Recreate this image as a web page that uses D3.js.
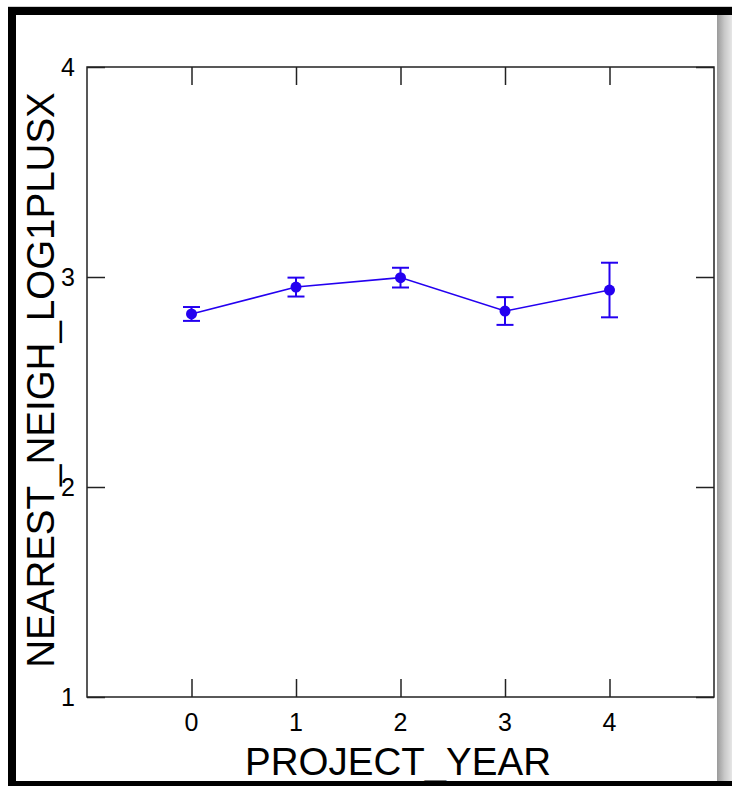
<!DOCTYPE html>
<html>
<head>
<meta charset="utf-8">
<script src="https://cdn.jsdelivr.net/npm/d3@7/dist/d3.min.js"></script>
<style>
  html, body { margin: 0; padding: 0; background: #fff; }
  svg { display: block; }
  text { font-family: "Liberation Sans", Arial, sans-serif; fill: #000; }
</style>
</head>
<body>
<script>
// ---- data ----
const years = [0, 1, 2, 3, 4];
const means = [2.824, 2.952, 2.997, 2.838, 2.938];
const errors = [0.033, 0.045, 0.047, 0.066, 0.13];
const xTicks = [0, 1, 2, 3, 4];
const yTicks = [1, 2, 3, 4];
const xTitle = "PROJECT_YEAR";
const yTitle = "NEAREST_NEIGH_LOG1PLUSX";

const W = 732, H = 786;
const svg = d3.select("body").append("svg").attr("width", W).attr("height", H);

// window frame
const defs = svg.append("defs");
const grad = defs.append("linearGradient").attr("id", "shade").attr("x1", "0").attr("x2", "1");
grad.append("stop").attr("offset", "0").attr("stop-color", "#9a9a9a");
grad.append("stop").attr("offset", "0.5").attr("stop-color", "#c8c8c8");
grad.append("stop").attr("offset", "1").attr("stop-color", "#e6e6e6");
svg.append("rect").attr("x", 0).attr("y", 0).attr("width", W).attr("height", H).attr("fill", "#fff");
svg.append("rect").attr("x", 717).attr("y", 15).attr("width", 15).attr("height", 767).attr("fill", "url(#shade)");
svg.append("rect").attr("x", 8).attr("y", 6).attr("width", W - 8).attr("height", 1).attr("fill", "#d0d0d0");
svg.append("rect").attr("x", 8).attr("y", 7).attr("width", W - 8).attr("height", 8).attr("fill", "#000");
svg.append("rect").attr("x", 8).attr("y", 7).attr("width", 8).attr("height", H - 7).attr("fill", "#000");
svg.append("rect").attr("x", 8).attr("y", 781).attr("width", W - 8).attr("height", 5).attr("fill", "#000");

// plot area
const L = 87, R = 714, T = 67, B = 697;
const x = d3.scaleLinear().domain([-1, 5]).range([L, R]);
const y = d3.scaleLinear().domain([1, 4]).range([B, T]);

const tickLen = 18;
const axisStyle = g => {
  g.select(".domain").remove();
  g.selectAll(".tick line").attr("stroke", "#222").attr("stroke-width", 1.5);
  g.selectAll(".tick text").remove();
};

// inner ticks on all four sides
svg.append("g").attr("transform", `translate(0,${B})`)
  .call(d3.axisTop(x).tickValues(xTicks).tickSize(tickLen)).call(axisStyle);
svg.append("g").attr("transform", `translate(0,${T})`)
  .call(d3.axisBottom(x).tickValues(xTicks).tickSize(tickLen)).call(axisStyle);
svg.append("g").attr("transform", `translate(${L},0)`)
  .call(d3.axisRight(y).tickValues(yTicks).tickSize(tickLen)).call(axisStyle);
svg.append("g").attr("transform", `translate(${R},0)`)
  .call(d3.axisLeft(y).tickValues(yTicks).tickSize(tickLen)).call(axisStyle);

// frame
svg.append("rect").attr("x", L).attr("y", T).attr("width", R - L).attr("height", B - T)
  .attr("fill", "none").attr("stroke", "#222").attr("stroke-width", 1.5);

// tick labels
svg.append("g").selectAll("text").data(xTicks).join("text")
  .attr("x", d => x(d)).attr("y", 731)
  .attr("text-anchor", "middle").attr("font-size", 25)
  .text(d => d);
svg.append("g").selectAll("text").data(yTicks).join("text")
  .attr("x", 75).attr("y", d => y(d) + 9)
  .attr("text-anchor", "end").attr("font-size", 25)
  .text(d => d);

// axis titles
svg.append("text").attr("x", 398).attr("y", 775)
  .attr("text-anchor", "middle").attr("font-size", 38.5).text(xTitle);
svg.append("text").attr("transform", `translate(54,380) rotate(-90)`)
  .attr("text-anchor", "middle").attr("font-size", 38.5).text(yTitle);

// series
const color = "#2400f0";
const pts = years.map((d, i) => ({ x: d, m: means[i], e: errors[i] }));
svg.append("path").datum(pts)
  .attr("fill", "none").attr("stroke", color).attr("stroke-width", 1.5)
  .attr("d", d3.line().x(d => x(d.x)).y(d => y(d.m)));

const eb = svg.append("g").selectAll("g").data(pts).join("g");
eb.append("line").attr("x1", d => x(d.x)).attr("x2", d => x(d.x))
  .attr("y1", d => y(d.m - d.e)).attr("y2", d => y(d.m + d.e))
  .attr("stroke", color).attr("stroke-width", 2);
eb.append("line").attr("x1", d => x(d.x) - 8.5).attr("x2", d => x(d.x) + 8.5)
  .attr("y1", d => y(d.m + d.e)).attr("y2", d => y(d.m + d.e))
  .attr("stroke", color).attr("stroke-width", 2);
eb.append("line").attr("x1", d => x(d.x) - 8.5).attr("x2", d => x(d.x) + 8.5)
  .attr("y1", d => y(d.m - d.e)).attr("y2", d => y(d.m - d.e))
  .attr("stroke", color).attr("stroke-width", 2);
eb.append("circle").attr("cx", d => x(d.x)).attr("cy", d => y(d.m)).attr("r", 5.5)
  .attr("fill", color);
</script>
</body>
</html>
